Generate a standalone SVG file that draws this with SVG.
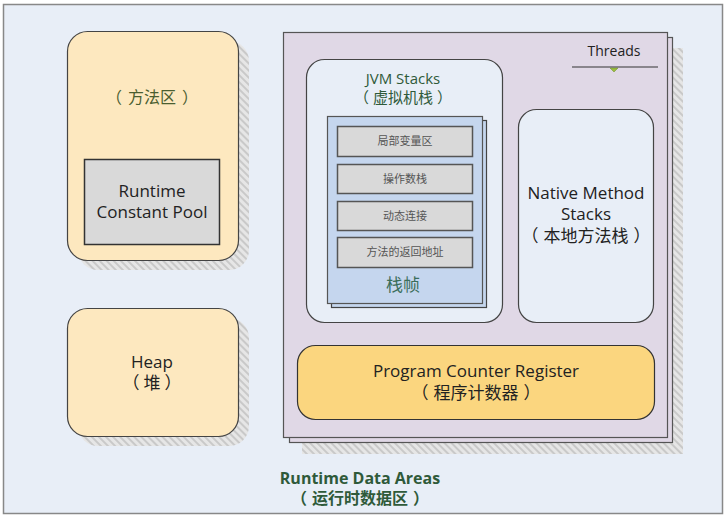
<svg xmlns="http://www.w3.org/2000/svg" width="727" height="518" viewBox="0 0 727 518">
<defs>
<pattern id="hatch" width="5" height="5" patternUnits="userSpaceOnUse" patternTransform="rotate(-45)">
<rect width="5" height="5" fill="#E6E6E6"/>
<rect width="2" height="5" fill="#C9C9C9"/>
</pattern>
<style>
.t{font-family:"Open Sans","Noto Sans","Noto Sans CJK SC",sans-serif;text-anchor:middle}
.dark{fill:#222;font-size:17px}
.green{fill:#2F5A3A;font-size:15px}
.row{fill:#D9D9D9;stroke:#555;stroke-width:1.5}
.rowt{font-family:"Noto Sans CJK SC",sans-serif;font-size:11px;fill:#555;text-anchor:middle}
.shadow{fill:url(#hatch)}
</style>
</defs>
<rect x="3.5" y="4.5" width="719" height="509" fill="#E8EEF7" stroke="#888" stroke-width="1.5"/>

<g id="method-area">
<rect class="shadow" x="78" y="41" width="171" height="229" rx="20"/>
<rect x="67.5" y="31.5" width="171" height="229" rx="20" fill="#FDE8BF" stroke="#444" stroke-width="1.2"/>
<text class="t" x="152" y="103" font-size="16" fill="#4A5E30">（<tspan dx="6">方法区</tspan><tspan dx="6">）</tspan></text>
</g>
<g id="runtime-constant-pool">
<rect x="84.5" y="159.5" width="135" height="85" fill="#D9D9D9" stroke="#333" stroke-width="1.5"/>
<text class="t dark" x="152" y="197">Runtime</text>
<text class="t dark" x="152" y="218">Constant Pool</text>
</g>

<g id="heap">
<rect class="shadow" x="78" y="318" width="171" height="128" rx="20"/>
<rect x="67.5" y="308.5" width="171" height="128" rx="20" fill="#FDE8BF" stroke="#444" stroke-width="1.2"/>
<text class="t dark" x="152" y="368">Heap</text>
<text class="t dark" x="152" y="389" font-size="16">（<tspan dx="4">堆</tspan><tspan dx="4">）</tspan></text>
</g>

<g id="threads">
<rect class="shadow" x="302" y="48" width="381" height="406"/>
<rect x="289.5" y="37.5" width="383" height="405" fill="#E0D8E6" stroke="#555" stroke-width="1.2"/>
<rect x="283.5" y="32.5" width="384" height="405" fill="#E0D8E6" stroke="#555" stroke-width="1.2"/>
<text class="t" x="614" y="56" font-size="14" fill="#222">Threads</text>
<line x1="572" y1="67" x2="658" y2="67" stroke="#333" stroke-width="1.2"/>
<polygon points="610,68 618,68 614,72" fill="#9ABF3C" stroke="#6A8A2A" stroke-width="0.5"/>
</g>

<g id="jvm-stacks">
<rect x="306.5" y="59.5" width="196" height="263" rx="18" fill="#E8EEF7" stroke="#444" stroke-width="1.2"/>
<text class="t green" x="403" y="84" font-size="14.5">JVM Stacks</text>
<text class="t green" x="403" y="103" font-size="14.5">（<tspan dx="4">虚拟机栈</tspan><tspan dx="4">）</tspan></text>
</g>

<g id="stack-frame">
<rect x="331.5" y="120.5" width="155" height="187" fill="#C5D6EE" stroke="#444" stroke-width="1.2"/>
<rect x="327.5" y="116.5" width="155" height="187" fill="#C5D6EE" stroke="#555" stroke-width="1.2"/>
<rect class="row" x="337.5" y="126.5" width="135" height="30"/>
<text class="rowt" x="405" y="145">局部变量区</text>
<rect class="row" x="337.5" y="164.5" width="135" height="29"/>
<text class="rowt" x="405" y="183">操作数栈</text>
<rect class="row" x="337.5" y="201.5" width="135" height="29"/>
<text class="rowt" x="405" y="220">动态连接</text>
<rect class="row" x="337.5" y="237.5" width="135" height="30"/>
<text class="rowt" x="405" y="256">方法的返回地址</text>
<text class="t" x="403" y="291" font-size="17" fill="#3B6E5A">栈帧</text>
</g>

<g id="native-method-stacks">
<rect x="518.5" y="109.5" width="135" height="213" rx="18" fill="#E8EEF7" stroke="#444" stroke-width="1.2"/>
<text class="t dark" x="586" y="199" font-size="17.5">Native Method</text>
<text class="t dark" x="586" y="220" font-size="17.5">Stacks</text>
<text class="t dark" x="586" y="242" font-size="17">（<tspan dx="5">本地方法栈</tspan><tspan dx="5">）</tspan></text>
</g>

<g id="program-counter-register">
<rect x="297.5" y="345.5" width="357" height="74" rx="18" fill="#FBD67F" stroke="#333" stroke-width="1.2"/>
<text class="t dark" x="476" y="377">Program Counter Register</text>
<text class="t dark" x="476" y="399" font-size="16">（<tspan dx="5">程序计数器</tspan><tspan dx="5">）</tspan></text>
</g>

<g id="runtime-data-areas-label">
<text class="t" x="360" y="484" font-size="16" font-weight="bold" fill="#2F5A3A">Runtime Data Areas</text>
<text class="t" x="360" y="504" font-size="16" font-weight="bold" fill="#2F5A3A">（<tspan dx="5">运行时数据区</tspan><tspan dx="5">）</tspan></text>
</g>
<g id="connectors"></g>
</svg>
